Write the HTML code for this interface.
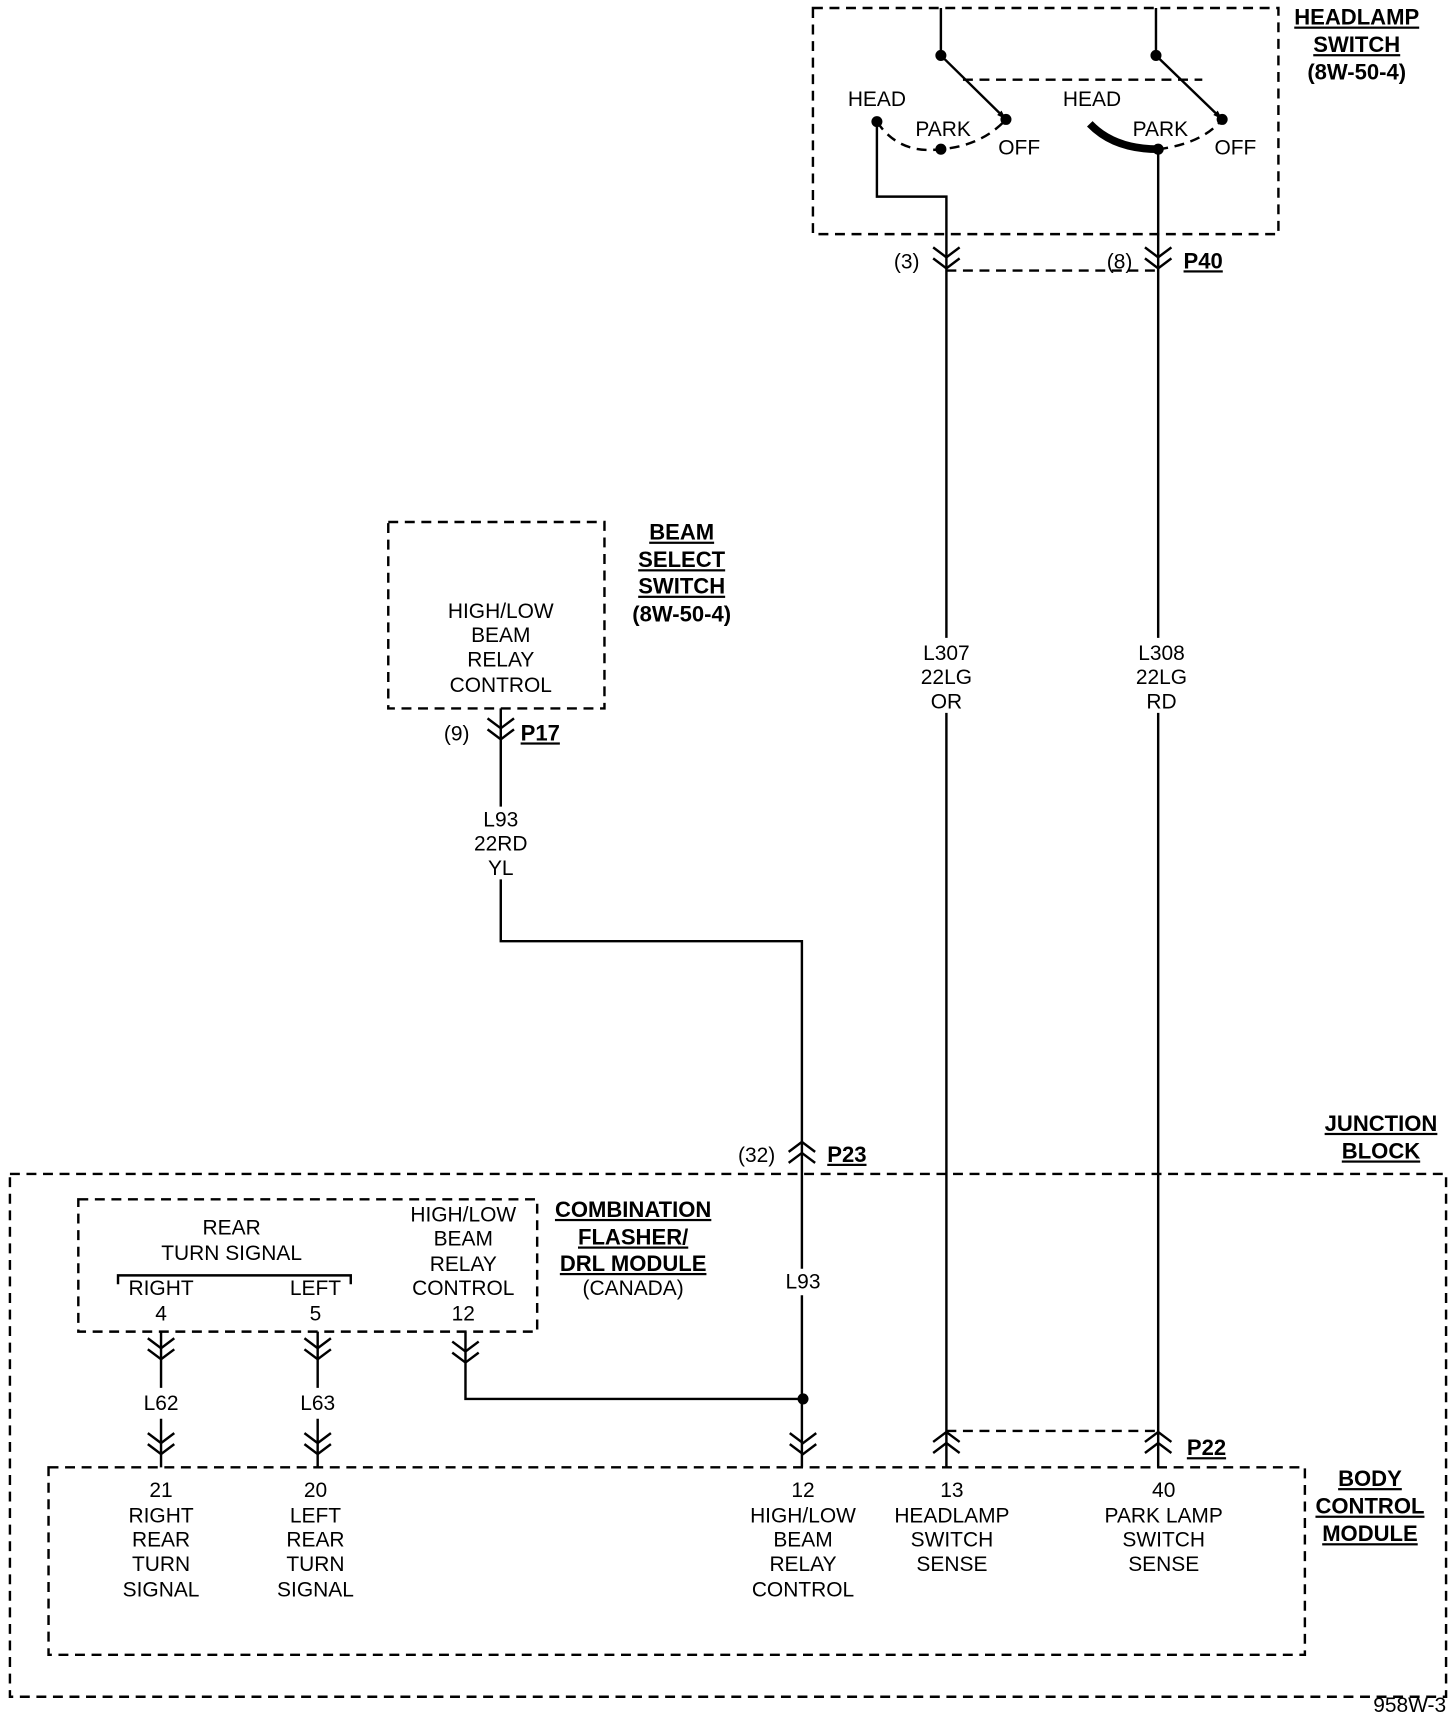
<!DOCTYPE html>
<html><head><style>
html,body{margin:0;padding:0;background:#fff;}
svg{display:block;}
text{font-family:"Liberation Sans Narrow","Liberation Sans",sans-serif;font-size:19px;fill:#000;text-anchor:middle;}
.b{font-family:"Liberation Sans",sans-serif;font-weight:bold;font-size:20px;text-decoration:underline;}
.bn{font-family:"Liberation Sans",sans-serif;font-weight:bold;font-size:20px;}
.l{text-anchor:start;}
</style></head><body>
<svg width="1456" height="1718" viewBox="0 0 1320 1557" xmlns="http://www.w3.org/2000/svg">
<defs>
<g id="cd" fill="none" stroke="#000" stroke-width="2.2"><path d="M-12,-9 L0,0 L12,-9 M-12,1 L0,10 L12,1"/></g>
<g id="cu" fill="none" stroke="#000" stroke-width="2.2"><path d="M-12,9 L0,0 L12,9 M-12,-1 L0,-10 L12,-1"/></g>
</defs>
<g fill="none" stroke="#000" stroke-width="2.2" stroke-dasharray="9,6">
<rect x="737" y="7" width="422" height="205"/>
<rect x="352" y="473" width="196" height="169"/>
<rect x="9" y="1064" width="1302" height="474"/>
<rect x="71" y="1087" width="416" height="120"/>
<rect x="44" y="1330" width="1139" height="170"/>
<path d="M873,72 H1090"/>
<path d="M858,245 H1050"/>
<path d="M858,1297 H1050"/>
<path d="M795,110 Q815,140 853,135 Q890,132 912,108"/>
<path d="M1050,135 Q1090,130 1108,108"/>
</g>
<g fill="none" stroke="#000" stroke-width="2.2">
<path d="M853,7 V50 M1048,7 V50"/>
<path d="M853,50 L912,108 M1048,50 L1108,108"/>
<path d="M795,110 V178 H858 V578 M858,646 V1330"/>
<path d="M1050,135 V578 M1050,646 V1330"/>
<path d="M454,642 V731 M454,797 V853 H727 V1150 M727,1174 V1330"/>
<path d="M422,1207 V1268 H728"/>
<path d="M146,1207 V1258 M146,1286 V1330"/>
<path d="M288,1207 V1258 M288,1286 V1330"/>
<path d="M107,1164 V1156 H318 V1164"/>
<path d="M988,112 Q1010,135 1050,135" stroke-width="7"/>
</g>
<g fill="#000">
<circle cx="853" cy="50" r="5"/><circle cx="1048" cy="50" r="5"/>
<circle cx="912" cy="108" r="5"/><circle cx="1108" cy="108" r="5"/>
<circle cx="795" cy="110" r="5"/><circle cx="853" cy="135" r="5"/>
<circle cx="1050" cy="135" r="5"/><circle cx="728" cy="1268" r="5"/>
<path d="M904,104 L912,108 L908,100Z M1100,104 L1108,108 L1104,100Z"/>
</g>
<use href="#cd" x="858" y="233"/><use href="#cd" x="1050" y="233"/>
<use href="#cd" x="454" y="660"/>
<use href="#cu" x="727" y="1045"/>
<use href="#cd" x="146" y="1222"/><use href="#cd" x="288" y="1222"/><use href="#cd" x="422" y="1225"/>
<use href="#cd" x="146" y="1308"/><use href="#cd" x="288" y="1308"/><use href="#cd" x="728" y="1308"/>
<use href="#cu" x="858" y="1308"/><use href="#cu" x="1050" y="1308"/>

<text class="b" x="1230" y="22">HEADLAMP</text>
<text class="b" x="1230" y="47">SWITCH</text>
<text class="bn" x="1230" y="72">(8W-50-4)</text>
<text x="795" y="96">HEAD</text><text x="855" y="123">PARK</text><text x="924" y="140">OFF</text>
<text x="990" y="96">HEAD</text><text x="1052" y="123">PARK</text><text x="1120" y="140">OFF</text>
<text x="822" y="243">(3)</text><text x="1015" y="243">(8)</text>
<text class="b l" x="1073" y="243">P40</text>
<text x="858" y="598">L307</text><text x="858" y="620">22LG</text><text x="858" y="642">OR</text>
<text x="1053" y="598">L308</text><text x="1053" y="620">22LG</text><text x="1053" y="642">RD</text>
<text class="b" x="618" y="489">BEAM</text>
<text class="b" x="618" y="514">SELECT</text>
<text class="b" x="618" y="538">SWITCH</text>
<text class="bn" x="618" y="563">(8W-50-4)</text>
<text x="454" y="560">HIGH/LOW</text><text x="454" y="582">BEAM</text><text x="454" y="604">RELAY</text><text x="454" y="627">CONTROL</text>
<text x="414" y="671">(9)</text><text class="b l" x="472" y="671">P17</text>
<text x="454" y="749">L93</text><text x="454" y="771">22RD</text><text x="454" y="793">YL</text>
<text x="686" y="1053">(32)</text><text class="b l" x="750" y="1053">P23</text>
<text class="b" x="1252" y="1025">JUNCTION</text><text class="b" x="1252" y="1050">BLOCK</text>
<text x="210" y="1119">REAR</text><text x="210" y="1142">TURN SIGNAL</text>
<text x="146" y="1174">RIGHT</text><text x="286" y="1174">LEFT</text>
<text x="146" y="1197">4</text><text x="286" y="1197">5</text>
<text x="420" y="1107">HIGH/LOW</text><text x="420" y="1129">BEAM</text><text x="420" y="1152">RELAY</text><text x="420" y="1174">CONTROL</text><text x="420" y="1197">12</text>
<text class="b" x="574" y="1103">COMBINATION</text>
<text class="b" x="574" y="1128">FLASHER/</text>
<text class="b" x="574" y="1152">DRL MODULE</text>
<text x="574" y="1174">(CANADA)</text>
<text x="728" y="1168">L93</text>
<text x="146" y="1278">L62</text><text x="288" y="1278">L63</text>
<text class="b l" x="1076" y="1319">P22</text>
<text x="146" y="1357">21</text><text x="146" y="1380">RIGHT</text><text x="146" y="1402">REAR</text><text x="146" y="1424">TURN</text><text x="146" y="1447">SIGNAL</text>
<text x="286" y="1357">20</text><text x="286" y="1380">LEFT</text><text x="286" y="1402">REAR</text><text x="286" y="1424">TURN</text><text x="286" y="1447">SIGNAL</text>
<text x="728" y="1357">12</text><text x="728" y="1380">HIGH/LOW</text><text x="728" y="1402">BEAM</text><text x="728" y="1424">RELAY</text><text x="728" y="1447">CONTROL</text>
<text x="863" y="1357">13</text><text x="863" y="1380">HEADLAMP</text><text x="863" y="1402">SWITCH</text><text x="863" y="1424">SENSE</text>
<text x="1055" y="1357">40</text><text x="1055" y="1380">PARK LAMP</text><text x="1055" y="1402">SWITCH</text><text x="1055" y="1424">SENSE</text>
<text class="b" x="1242" y="1347">BODY</text><text class="b" x="1242" y="1372">CONTROL</text><text class="b" x="1242" y="1397">MODULE</text>
<text x="1278" y="1552">958W-3</text>
</svg>
</body></html>
